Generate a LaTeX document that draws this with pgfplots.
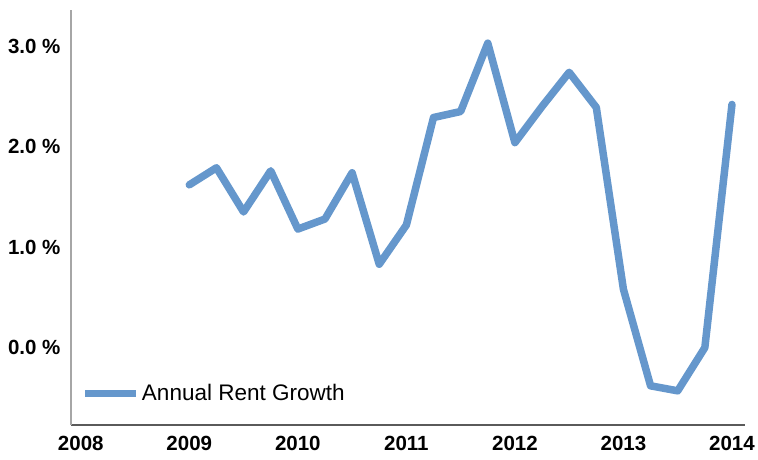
\documentclass[border=0pt]{standalone}
\usepackage{pgfplots}
\pgfplotsset{compat=1.18}
\usepackage{fontspec}
\setmainfont{Liberation Sans}
\definecolor{rentblue}{RGB}{101,151,204}
\definecolor{axisgray}{RGB}{90,90,90}
\begin{document}
\begin{tikzpicture}
\path[use as bounding box] (-71pt,-34pt) rectangle (687pt,425pt);
\begin{axis}[
  scale only axis,
  width=674pt, height=415pt,
  xmin=2007.91, xmax=2014.12,
  ymin=-0.77, ymax=3.36,
  axis x line=bottom, axis y line=left,
  x axis line style={-, draw=axisgray, line width=1.6pt},
  y axis line style={-, draw=gray!70, line width=1.2pt},
  major tick length=0pt,
  xtick={2008,2009,2010,2011,2012,2013,2014},
  xticklabels={2008,2009,2010,2011,2012,2013,2014},
  ytick={0,1,2,3},
  yticklabels={0.0 \%,1.0 \%,2.0 \%,3.0 \%},
  /pgf/number format/assume math mode=true,
  tick label style={font=\fontsize{20.5}{24}\selectfont\bfseries, text=black},
  xticklabel style={yshift=-8pt},
  yticklabel style={xshift=-7pt},
  legend style={at={(0.016,0.077)}, anchor=west, draw=none, fill=none,
    font=\fontsize{22.5}{26}\selectfont, inner xsep=0pt, inner ysep=0pt},
  legend cell align=left,
  legend image code/.code={\draw[#1, line width=7pt, line cap=butt] (0pt,0pt) -- (51pt,0pt);},
  clip=false,
]
\addplot[color=rentblue, line width=7.5pt, line join=round, line cap=round] coordinates {
  (2009.00,1.62)
  (2009.25,1.79)
  (2009.50,1.35)
  (2009.75,1.76)
  (2010.00,1.18)
  (2010.25,1.28)
  (2010.50,1.74)
  (2010.75,0.83)
  (2011.00,1.22)
  (2011.25,2.29)
  (2011.50,2.35)
  (2011.75,3.03)
  (2012.00,2.04)
  (2012.25,2.40)
  (2012.50,2.74)
  (2012.75,2.39)
  (2013.00,0.58)
  (2013.25,-0.38)
  (2013.50,-0.43)
  (2013.75,0.00)
  (2014.00,2.42)
};
\addlegendentry{Annual Rent Growth}
\end{axis}
\end{tikzpicture}
\end{document}
